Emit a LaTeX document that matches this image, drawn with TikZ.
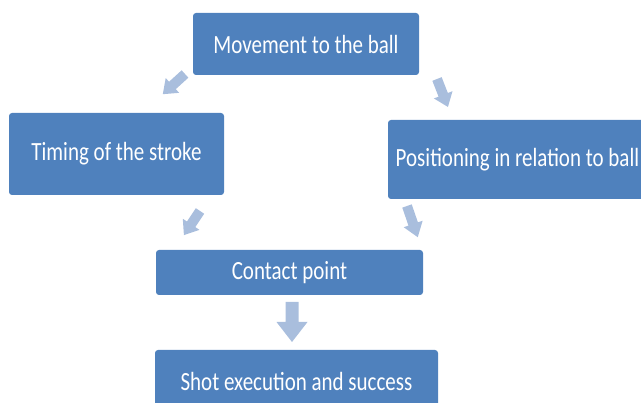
\documentclass[tikz,border=0pt]{standalone}
\usepackage{fontspec}
\setmainfont{Carlito}
\definecolor{boxblue}{HTML}{4F81BD}
\definecolor{arrowblue}{HTML}{A9BEDD}
\tikzset{
  stepbox/.style={fill=boxblue, rounded corners=3pt, inner sep=0pt, text=white},
  arrowshape/.style={fill=arrowblue, draw=none}
}
\newcommand{\boxtext}[1]{\fontsize{21}{21}\selectfont\scalebox{1}[1.25]{#1}}
% \blockarrow{x}{y}{angle}{length}{head half width}{shaft half width}{head length}
\newcommand{\blockarrow}[7]{%
  \fill[arrowshape, shift={(#1,#2)}, rotate=#3]
    (0,-#6) -- ({#4-#7},-#6) -- ({#4-#7},-#5) -- (#4,0) -- ({#4-#7},#5) -- ({#4-#7},#6) -- (0,#6) -- cycle;}
\begin{document}
\begin{tikzpicture}[x=1pt,y=-1pt]
\useasboundingbox (0,0) rectangle (641,403);
\begin{scope}
\clip (0,0) rectangle (641,403);
\node[stepbox, minimum width=226pt, minimum height=62pt] (move) at (306,44) {\boxtext{Movement to the ball}};
\node[stepbox, minimum width=215pt, minimum height=82pt] (timing) at (116.5,154) {\boxtext{Timing of the stroke}};
\node[stepbox, minimum width=259pt, minimum height=79pt] (pos) at (517.5,159.5) {\boxtext{Positioning in relation to ball}};
\node[stepbox, minimum width=267pt, minimum height=45pt] (contact) at (289.5,272.5) {\boxtext{Contact point}};
\node[stepbox, minimum width=283pt, minimum height=62pt] (shot) at (296.5,381) {\boxtext{Shot execution and success}};
\end{scope}
\blockarrow{185}{74}{222.3}{30}{10}{5}{13}
\blockarrow{437}{79}{-68.6}{30}{10}{5}{13}
\blockarrow{200}{211}{236.3}{29}{10}{5}{13}
\blockarrow{407}{206}{-71}{33}{10}{5}{14}
\blockarrow{292}{302}{-90}{40}{15.5}{6.5}{20}
\end{tikzpicture}
\end{document}
